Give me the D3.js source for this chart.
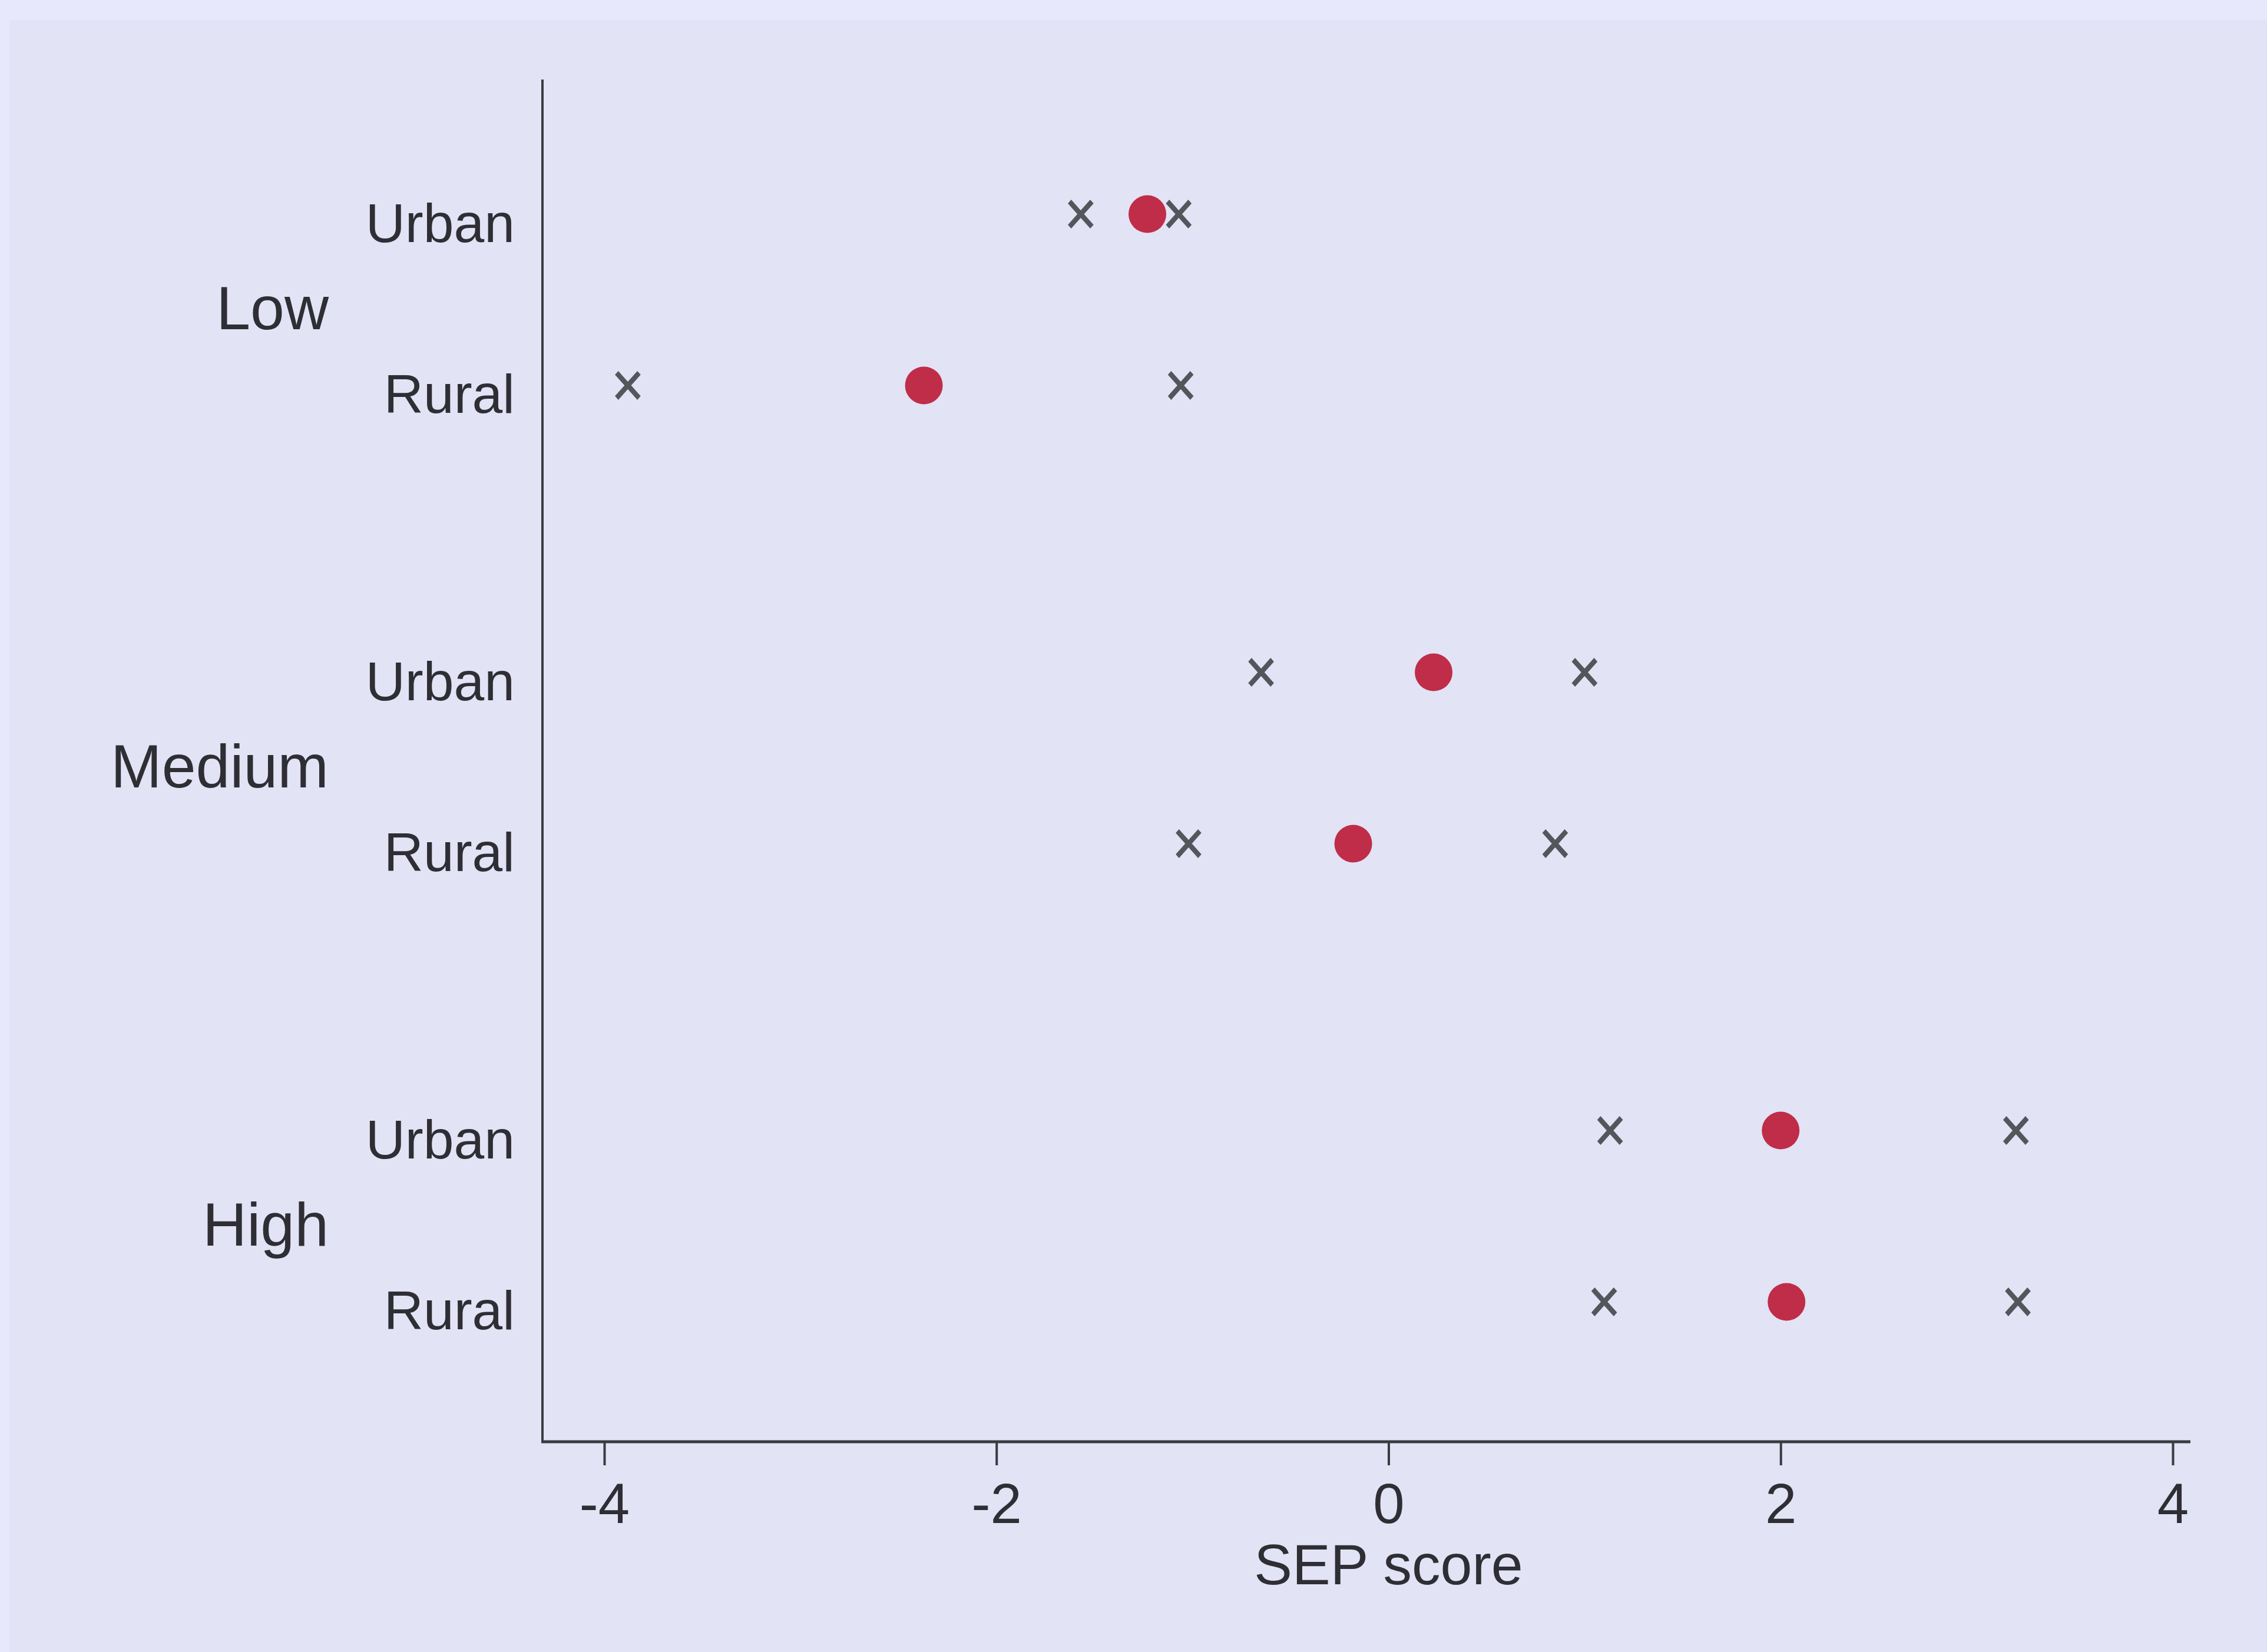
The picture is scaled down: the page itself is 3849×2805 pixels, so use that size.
<!DOCTYPE html>
<html>
<head>
<meta charset="utf-8">
<script src="https://cdn.jsdelivr.net/npm/d3@7"></script>
<style>
  html, body { margin: 0; padding: 0; background: #e4e5f7; }
  svg { display: block; }
  text { font-family: "Liberation Sans", Arial, Helvetica, sans-serif; fill: #2e2e34; }
</style>
</head>
<body>
<svg id="chart"></svg>
<script>
// SEP score by SEP level and area type: point estimate with lower/upper bounds
const groups = ["Low", "Medium", "High"];
const areas = ["Urban", "Rural"];
const lowerValues = [-1.57, -3.88, -0.65, -1.02, 1.13, 1.10];
const meanValues  = [-1.23, -2.37,  0.23, -0.18, 2.00, 2.03];
const upperValues = [-1.07, -1.06,  1.00,  0.85, 3.20, 3.21];
const xTicks = [-4, -2, 0, 2, 4];
const xTitle = "SEP score";

const W = 3849, H = 2805;
const plotLeft = 921, plotRight = 3719, plotTop = 135, plotBottom = 2448;

const rows = groups.flatMap((g, gi) => areas.map((a, ai) => {
  const i = gi * areas.length + ai;
  return { group: g, area: a, lo: lowerValues[i], mean: meanValues[i], hi: upperValues[i] };
}));

const svg = d3.select("#chart").attr("width", W).attr("height", H);

// background: slightly lighter paper edge along top and left
svg.append("rect").attr("width", W).attr("height", H).attr("fill", "#e7e8fb");
svg.append("rect").attr("x", 16).attr("y", 34).attr("width", W - 16).attr("height", H - 34)
  .attr("fill", "#e2e3f5");

const x = d3.scaleLinear().domain([-4, 4]).range([1026, 3689]);
const yGroup = d3.scaleBand().domain(groups).range([120, 2454]).paddingInner(0).paddingOuter(0);
const yArea = d3.scalePoint().domain(areas).range([0, yGroup.bandwidth()]).padding(0.837);
const yRow = d => yGroup(d.group) + yArea(d.area);

// axes lines
svg.append("line")
  .attr("x1", plotLeft).attr("x2", plotLeft)
  .attr("y1", plotTop).attr("y2", plotBottom)
  .attr("stroke", "#3a3a40").attr("stroke-width", 4);

const xAxis = svg.append("g")
  .attr("transform", `translate(0,${plotBottom})`)
  .call(d3.axisBottom(x).tickValues(xTicks).tickFormat(d => String(d))
    .tickSize(40).tickSizeOuter(0).tickPadding(30));
xAxis.select(".domain").remove();
xAxis.selectAll(".tick line").attr("stroke", "#3a3a40").attr("stroke-width", 4);
xAxis.selectAll(".tick text")
  .attr("font-size", 96).attr("fill", "#2e2e34")
  .attr("font-family", "'Liberation Sans', Arial, sans-serif");
xAxis.append("line")
  .attr("x1", plotLeft - 2).attr("x2", plotRight)
  .attr("y1", 0).attr("y2", 0)
  .attr("stroke", "#3a3a40").attr("stroke-width", 5);

svg.append("text")
  .attr("x", x(0)).attr("y", 2690)
  .attr("text-anchor", "middle")
  .attr("font-size", 97)
  .text(xTitle);

// row labels
svg.selectAll("text.area").data(rows).join("text")
  .attr("class", "area")
  .attr("x", 874)
  .attr("y", d => yRow(d) + 47)
  .attr("text-anchor", "end")
  .attr("font-size", 93)
  .text(d => d.area);

// group labels
svg.selectAll("text.group").data(groups).join("text")
  .attr("class", "group")
  .attr("x", 558)
  .attr("y", g => yGroup(g) + yGroup.bandwidth() / 2 + 50)
  .attr("text-anchor", "end")
  .attr("font-size", 104)
  .text(g => g);

// bound markers (x)
const half = 19;
const xSymbol = d3.symbol().type(d3.symbolX).size(Math.pow(half / 0.6189, 2) + 1.7);
const bounds = rows.flatMap(d => [{ v: d.lo, r: d }, { v: d.hi, r: d }]);
svg.selectAll("path.bound").data(bounds).join("path")
  .attr("class", "bound")
  .attr("d", xSymbol)
  .attr("transform", d => `translate(${x(d.v)},${yRow(d.r)}) scale(1,1.12)`)
  .attr("fill", "none")
  .attr("stroke", "#55555c")
  .attr("stroke-width", 8);

// point estimates
svg.selectAll("circle.mean").data(rows).join("circle")
  .attr("class", "mean")
  .attr("cx", d => x(d.mean))
  .attr("cy", d => yRow(d))
  .attr("r", 32)
  .attr("fill", "#bf2d48");
</script>
</body>
</html>
